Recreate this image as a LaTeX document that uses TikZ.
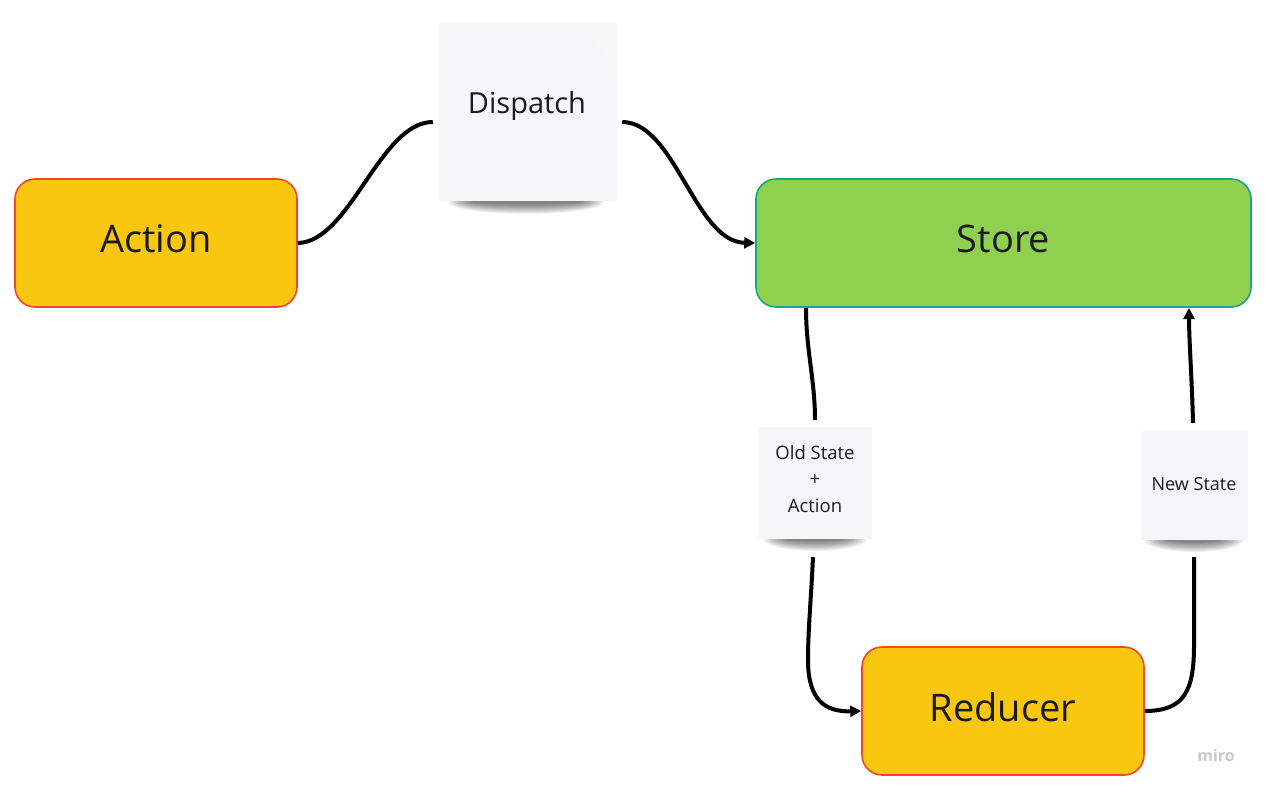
\documentclass[tikz,border=0pt]{standalone}
\usepackage{fontspec}
\setmainfont{Open Sans}
\usetikzlibrary{arrows.meta}
\definecolor{mirofill}{HTML}{FAC710}
\definecolor{miroedge}{HTML}{F24726}
\definecolor{greenfill}{HTML}{8FD14F}
\definecolor{greenedge}{HTML}{12A889}
\definecolor{sticky}{HTML}{F5F6F8}
\definecolor{txt}{HTML}{1A1A1A}
\definecolor{logo}{HTML}{C8C8D2}
\tikzset{
  blockbox/.style={draw=miroedge, fill=mirofill, line width=1.6pt, rounded corners=20pt, minimum width=282pt, minimum height=128pt, inner sep=0pt, text depth=8pt, font=\fontsize{38}{46}\selectfont, text=txt},
  storebox/.style={blockbox, draw=greenedge, fill=greenfill, minimum width=495pt},
  stickybox/.style={fill=sticky, inner sep=0pt, text=txt, align=center},
  conn/.style={line width=4pt, black},
  arr/.style={conn, -{Triangle[length=11pt,width=11pt]}},
}
\newcommand{\stickyshadow}[3]{% center x, bottom y, half width
  \foreach \k in {0,...,11}{
    \fill[black, opacity=0.05] (#1,#2+2) ellipse ({#3-\k*2.2pt} and {12pt-\k*0.9pt});
  }
}
\begin{document}
\begin{tikzpicture}[x=1pt,y=-1pt]
\useasboundingbox (0,0) rectangle (1265,790);
\fill[white] (0,0) rectangle (1265,790);

% shadows
\stickyshadow{526}{200}{78pt}
\stickyshadow{815}{537}{52pt}
\stickyshadow{1194}{538}{50pt}

% blocks
\node[blockbox] (action) at (156,243) {Action};
\node[storebox] (store) at (1003.5,243) {Store};
\node[blockbox] (reducer) at (1003,711) {Reducer};

% stickies
\node[stickybox, minimum width=178pt, minimum height=178pt] (dispatch) at (528,112) {};
\fill[black!3] (580,23) -- (617,23) -- (617,70) -- cycle;
\node[text=txt, font=\fontsize{29}{35}\selectfont] (dlabel) at (527,106) {Dispatch};
\node[stickybox, minimum width=113pt, minimum height=112pt] (old) at (815.5,483) {};
\node[text=txt, align=center, font=\fontsize{18.5}{26.5}\selectfont] (oldlabel) at (815,479) {Old State\\+\\Action};
\node[stickybox, minimum width=107pt, minimum height=109pt] (new) at (1194.5,485.5) {};
\node[text=txt, font=\fontsize{18}{24}\selectfont] (newlabel) at (1194,484) {New State};

% connectors
\coordinate (d1) at ([xshift=-6pt,yshift=-10pt]dispatch.west);
\coordinate (d2) at ([xshift=5pt,yshift=-10pt]dispatch.east);
\draw[conn] (action.east) .. controls (350,242) and (380,122) .. (d1);
\draw[arr] (d2) .. controls (675,122) and (695,242) .. (store.west);

\coordinate (s1) at (806,308);
\coordinate (o1) at (815,420);
\coordinate (o2) at (813,557);
\coordinate (m1) at (808,660);
\draw[conn] (s1) .. controls (806,350) and (815,380) .. (o1);
\draw[arr] (o2) .. controls (811,600) and (808,630) .. (m1) .. controls (808,700) and (825,712) .. (reducer.west);

\coordinate (n1) at (1194,557);
\coordinate (m2) at (1194,645);
\coordinate (n2) at (1193,423);
\coordinate (s2) at (1189,308);
\draw[conn] (reducer.east) .. controls (1185,711) and (1194,690) .. (m2) .. controls (1194,610) and (1194,580) .. (n1);
\draw[arr] (n2) .. controls (1192,380) and (1189,340) .. (s2);

\node[text=logo, font=\bfseries\fontsize{16}{18}\selectfont] (miro) at (1216,755) {miro};
\end{tikzpicture}
\end{document}
